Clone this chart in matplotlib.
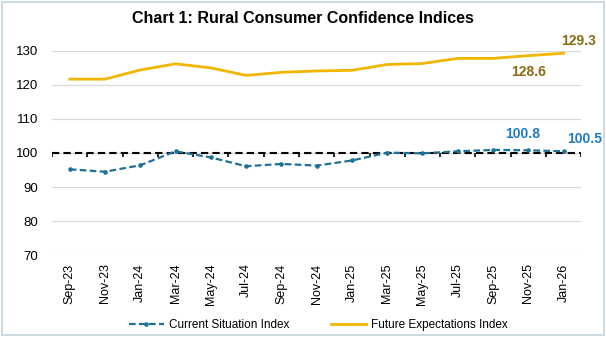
import numpy as np
import matplotlib.pyplot as plt
import matplotlib as mpl
from matplotlib.patches import Rectangle

mpl.rcParams['font.family'] = ['Liberation Sans', 'DejaVu Sans']

months = ["Sep-23", "Nov-23", "Jan-24", "Mar-24", "May-24", "Jul-24", "Sep-24", "Nov-24",
          "Jan-25", "Mar-25", "May-25", "Jul-25", "Sep-25", "Nov-25", "Jan-26"]
current_situation = [95.2, 94.5, 96.4, 100.5, 98.7, 96.1, 96.8, 96.3,
                     97.8, 100.1, 99.9, 100.5, 100.9, 100.8, 100.5]
future_expectations = [121.7, 121.7, 124.4, 126.2, 125.0, 122.8, 123.7, 124.1,
                       124.3, 126.0, 126.3, 127.8, 127.8, 128.6, 129.3]
baseline = 100

csi_color = "#1F7196"
fei_color = "#F2B600"
csi_label_color = "#1F7BC4"
fei_label_color = "#8A6A12"

fig = plt.figure(figsize=(6.06, 3.37), dpi=100)
fig.patches.append(Rectangle((0.004, 0.006), 0.992, 0.988, transform=fig.transFigure,
                             fill=False, edgecolor="#C5D3DC", linewidth=1.2))
ax = fig.add_axes([0.086, 0.243, 0.873, 0.606])

x = np.arange(len(months))
ax.plot(x, future_expectations, color=fei_color, linewidth=2, label="Future Expectations Index")
ax.plot(x, current_situation, color=csi_color, linewidth=1.6, linestyle=(0, (3, 1.5)),
        marker="o", markersize=2.3, label="Current Situation Index")
ax.axhline(baseline, color="black", linewidth=1.5, linestyle=(0, (3.5, 2)), zorder=1)
# category ticks hanging from the 100 line
ax.vlines(np.arange(len(months) + 1) - 0.5, baseline - 1.2, baseline, color="black",
          linewidth=1.2, zorder=1)

ax.set_xlim(-0.5, len(months) - 0.5)
ax.set_ylim(70, 130)
ax.set_yticks(range(70, 131, 10))
ax.set_xticks(x, months, rotation=90, fontsize=9)
ax.tick_params(axis="y", labelsize=9.5, length=0, pad=10)
ax.tick_params(axis="x", length=0, pad=6)
ax.grid(axis="y", color="#D9D9D9", linewidth=0.9)
ax.set_axisbelow(True)
for s in ax.spines.values():
    s.set_visible(False)

ax.annotate(f"{future_expectations[-1]:.1f}", (x[-1], future_expectations[-1]), xytext=(11, 6),
            textcoords="offset points", ha="center", fontsize=10, fontweight="bold",
            color=fei_label_color, annotation_clip=False)
ax.annotate(f"{future_expectations[-2]:.1f}", (x[-2], future_expectations[-2]), xytext=(0, -15),
            textcoords="offset points", ha="center", fontsize=10, fontweight="bold",
            color=fei_label_color, annotation_clip=False)
ax.annotate(f"{current_situation[-2]:.1f}", (x[-2], current_situation[-2]), xytext=(-4, 9),
            textcoords="offset points", ha="center", fontsize=10, fontweight="bold",
            color=csi_label_color, annotation_clip=False)
ax.annotate(f"{current_situation[-1]:.1f}", (x[-1], current_situation[-1]), xytext=(15, 6),
            textcoords="offset points", ha="center", fontsize=10, fontweight="bold",
            color=csi_label_color, annotation_clip=False)

fig.text(0.5, 0.945, "Chart 1: Rural Consumer Confidence Indices", ha="center", va="center",
         fontsize=11.5, fontweight="bold")

handles, labels = ax.get_legend_handles_labels()
fig.legend(handles[::-1], labels[::-1], loc="center", bbox_to_anchor=(0.525, 0.035), ncol=2,
           frameon=False, fontsize=8.5, handlelength=3, columnspacing=3.5, handletextpad=0.4)

fig.savefig("out.png", dpi=100)
